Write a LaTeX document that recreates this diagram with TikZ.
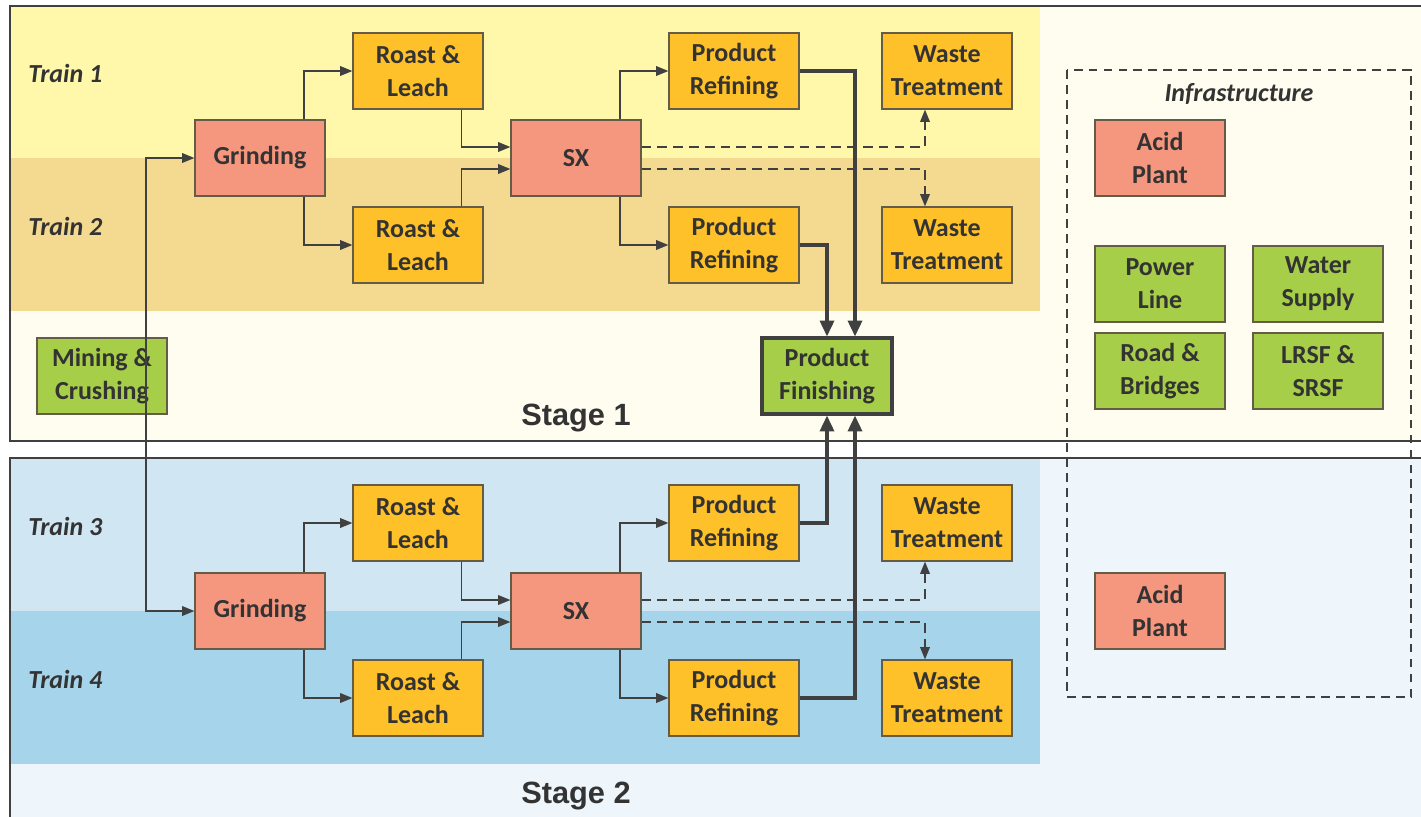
\documentclass[tikz,border=0pt]{standalone}
\usepackage{fontspec}
\setmainfont{Carlito}
\newfontfamily\stagefont{Liberation Sans}
\usetikzlibrary{arrows.meta}
\definecolor{msalmon}{RGB}{245,151,126}
\definecolor{morange}{RGB}{255,193,41}
\definecolor{mgreen}{RGB}{166,206,72}
\definecolor{mtrainA}{RGB}{255,247,170}
\definecolor{mtrainB}{RGB}{244,217,145}
\definecolor{mtrainC}{RGB}{208,230,242}
\definecolor{mtrainD}{RGB}{166,212,234}
\definecolor{mstageA}{RGB}{255,253,240}
\definecolor{mstageB}{RGB}{238,246,252}
\definecolor{mline}{RGB}{64,64,64}
\definecolor{mtext}{RGB}{51,51,51}
\definecolor{medge}{RGB}{100,92,70}

\begin{document}
\begin{tikzpicture}[x=0.02cm, y=-0.02cm, text=mtext, font=\fontsize{14.8}{18.8}\selectfont\bfseries]
  \tikzset{unit box/.style={draw=medge, line width=0.7pt, fill=#1, minimum width=2.6cm, minimum height=1.52cm, inner sep=0pt, align=center},
    flow/.style={draw=mline, line width=0.8pt, -{Triangle[length=7pt,width=5.5pt]}},
    waste flow/.style={flow, dash pattern=on 5.5pt off 3.5pt},
    product flow/.style={draw=mline, line width=1.8pt, -{Triangle[length=9pt,width=8pt]}},
    train label/.style={anchor=west, inner sep=0pt, font=\fontsize{14.8}{18.8}\selectfont\bfseries\itshape},
    stage label/.style={font=\stagefont\fontsize{17.5}{20}\selectfont\bfseries}}

  \useasboundingbox (0,0) rectangle (1421,816);
  \clip (0,0) rectangle (1421,816);
  \fill[white] (0,0) rectangle (1421,816);

  % stages and trains
  \fill[mstageA] (10,6) rectangle (1440,441);
  \fill[mstageB] (10,458) rectangle (1440,840);
  \fill[mtrainA] (10,6) rectangle (1040,158);
  \fill[mtrainB] (10,158) rectangle (1040,311);
  \fill[mtrainC] (10,458) rectangle (1040,611);
  \fill[mtrainD] (10,611) rectangle (1040,764);
  \draw[mline, line width=1.6pt] (10,6) rectangle (1440,441);
  \draw[mline, line width=1.6pt] (10,458) rectangle (1440,840);
  \draw[mline, line width=0.8pt, dash pattern=on 5pt off 3.5pt] (1067,70) rectangle (1411,697);

  \node[train label] (tr1) at (28,73) {Train 1};
  \node[train label] (tr2) at (28,226) {Train 2};
  \node[train label] (tr3) at (28,526) {Train 3};
  \node[train label] (tr4) at (28,679) {Train 4};
  \node[stage label] (st1) at (576,418) {Stage 1};
  \node[stage label] (st2) at (576,796) {Stage 2};
  \node[font=\fontsize{14.8}{18.8}\selectfont\bfseries\itshape] (infra) at (1239,94) {Infrastructure};

  % stage 1
  \node[unit box = msalmon] (G1) at (260,158) {Grinding};
  \node[unit box = morange] (RL1) at (418,71) {Roast \&\\Leach};
  \node[unit box = morange] (RL2) at (418,245) {Roast \&\\Leach};
  \node[unit box = msalmon] (SX1) at (576,158) {SX};
  \node[unit box = morange] (PR1) at (734,71) {Product\\Refining};
  \node[unit box = morange] (PR2) at (734,245) {Product\\Refining};
  \node[unit box = morange] (WT1) at (947,71) {Waste\\Treatment};
  \node[unit box = morange] (WT2) at (947,245) {Waste\\Treatment};
  \node[unit box = mgreen] (MC) at (102,376) {Mining \&\\Crushing};
  \node[unit box = mgreen, draw=mline, line width=1.8pt] (PF) at (827,376) {Product\\Finishing};

  % stage 2
  \node[unit box = msalmon] (G2) at (260,611) {Grinding};
  \node[unit box = morange] (RL3) at (418,523) {Roast \&\\Leach};
  \node[unit box = morange] (RL4) at (418,698) {Roast \&\\Leach};
  \node[unit box = msalmon] (SX2) at (576,611) {SX};
  \node[unit box = morange] (PR3) at (734,523) {Product\\Refining};
  \node[unit box = morange] (PR4) at (734,698) {Product\\Refining};
  \node[unit box = morange] (WT3) at (947,523) {Waste\\Treatment};
  \node[unit box = morange] (WT4) at (947,698) {Waste\\Treatment};

  % infrastructure
  \node[unit box = msalmon] (AP1) at (1160,158) {Acid\\Plant};
  \node[unit box = mgreen] (PL) at (1160,284) {Power\\Line};
  \node[unit box = mgreen] (WS) at (1318,284) {Water\\Supply};
  \node[unit box = mgreen] (RB) at (1160,371) {Road \&\\Bridges};
  \node[unit box = mgreen] (LS) at (1318,371) {LRSF \&\\SRSF};
  \node[unit box = msalmon] (AP2) at (1160,611) {Acid\\Plant};

  % ore feed
  \coordinate (feed) at (146,376);
  \draw[flow] (feed) |- (G1);
  \draw[flow] (feed) |- (G2);

  % train flows
  \draw[flow] ([xshift=0.88cm]G1.north) |- (RL1);
  \draw[flow] ([xshift=0.88cm]G1.south) |- (RL2);
  \draw[flow] ([xshift=0.87cm]RL1.south) |- ([yshift=0.22cm]SX1.west);
  \draw[flow] ([xshift=0.87cm]RL2.north) |- ([yshift=-0.22cm]SX1.west);
  \draw[flow] ([xshift=0.88cm]SX1.north) |- (PR1);
  \draw[flow] ([xshift=0.88cm]SX1.south) |- (PR2);
  \draw[waste flow] ([yshift=0.22cm]SX1.east) -| ([xshift=-0.44cm]WT1.south);
  \draw[waste flow] ([yshift=-0.22cm]SX1.east) -| ([xshift=-0.44cm]WT2.north);

  \draw[flow] ([xshift=0.88cm]G2.north) |- (RL3);
  \draw[flow] ([xshift=0.88cm]G2.south) |- (RL4);
  \draw[flow] ([xshift=0.87cm]RL3.south) |- ([yshift=0.22cm]SX2.west);
  \draw[flow] ([xshift=0.87cm]RL4.north) |- ([yshift=-0.22cm]SX2.west);
  \draw[flow] ([xshift=0.88cm]SX2.north) |- (PR3);
  \draw[flow] ([xshift=0.88cm]SX2.south) |- (PR4);
  \draw[waste flow] ([yshift=0.22cm]SX2.east) -| ([xshift=-0.44cm]WT3.south);
  \draw[waste flow] ([yshift=-0.22cm]SX2.east) -| ([xshift=-0.44cm]WT4.north);

  % to finishing
  \draw[product flow] (PR1.east) -| ([xshift=0.56cm]PF.north);
  \draw[product flow] (PR2.east) -| (PF.north);
  \draw[product flow] (PR3.east) -| (PF.south);
  \draw[product flow] (PR4.east) -| ([xshift=0.56cm]PF.south);
\end{tikzpicture}
\end{document}
